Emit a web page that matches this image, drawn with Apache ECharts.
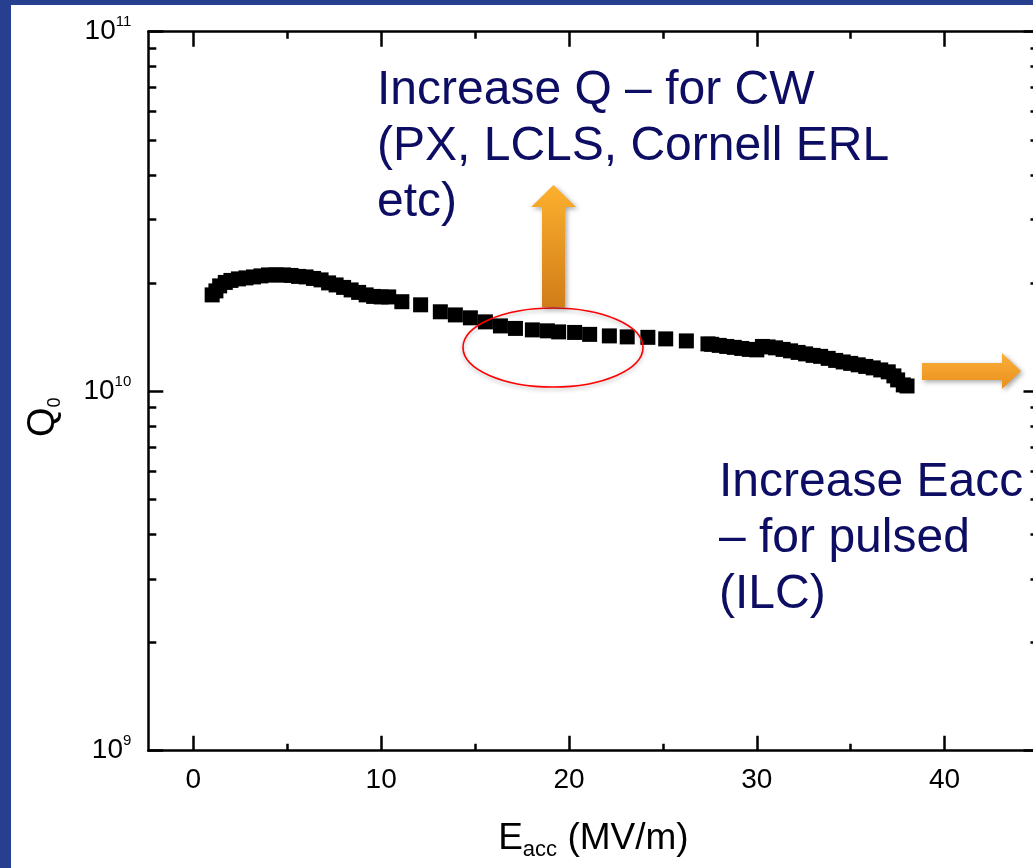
<!DOCTYPE html>
<html><head><meta charset="utf-8">
<script src="https://cdn.jsdelivr.net/npm/echarts@6/dist/echarts.min.js"></script>
<style>html,body{margin:0;padding:0;background:#fff}#c{width:1033px;height:868px}</style>
</head><body><div id="c"></div>
<script>
// ---- data ----
const eacc = [1.0,1.2,1.4,1.7,2.0,2.4,2.8,3.2,3.6,4.0,4.4,4.8,5.2,5.6,6.0,6.4,6.8,7.2,7.6,8.0,8.4,8.8,9.2,9.6,10.0,10.4,
  11.1,12.1,13.15,13.95,14.75,15.55,16.35,17.15,18.05,18.85,19.45,20.3,21.1,22.15,23.1,24.2,25.15,26.25,27.4,
  27.6,28.0,28.4,28.8,29.2,29.6,30.0,30.3,30.6,31.0,31.4,31.8,32.2,32.6,33.0,33.4,33.8,34.2,34.6,35.0,35.4,35.8,36.2,36.6,37.0,37.3,37.5,37.8,38.0];
const q0 = [1.853e10,1.901e10,1.963e10,2.007e10,2.033e10,2.053e10,2.066e10,2.079e10,2.093e10,2.106e10,2.106e10,2.106e10,2.099e10,2.086e10,2.079e10,2.059e10,2.040e10,2.001e10,1.975e10,1.944e10,1.913e10,1.883e10,1.853e10,1.835e10,1.829e10,1.829e10,
  1.774e10,1.739e10,1.663e10,1.630e10,1.600e10,1.559e10,1.519e10,1.495e10,1.481e10,1.472e10,1.462e10,1.457e10,1.439e10,1.425e10,1.416e10,1.412e10,1.398e10,1.380e10,1.354e10,
  1.350e10,1.341e10,1.332e10,1.324e10,1.315e10,1.307e10,1.303e10,1.332e10,1.328e10,1.320e10,1.307e10,1.295e10,1.282e10,1.270e10,1.258e10,1.250e10,1.234e10,1.218e10,1.206e10,1.195e10,1.184e10,1.172e10,1.161e10,1.146e10,1.132e10,1.103e10,1.075e10,1.041e10,1.034e10];
const xMajorTicks = [0,10,20,30,40];
const xMinorTicks = [5,15,25,35];
const yMajorTicks = [1e9,1e10,1e11];
const yMinorTicks = [2e9,3e9,4e9,5e9,6e9,7e9,8e9,9e9,2e10,3e10,4e10,5e10,6e10,7e10,8e10,9e10];
const noteCW = ['Increase Q \u2013 for CW','(PX, LCLS, Cornell ERL','etc)'];
const notePulsed = ['Increase Eacc','\u2013 for pulsed','(ILC)'];

const FONT = '"Liberation Sans", Arial, sans-serif';
const points = eacc.map((e,i)=>[e,q0[i]]);

function xAx(pos, ticks, len, showLine, showLabel, extra){
  return Object.assign({
    type:'value', position:pos, offset:0, min:-2.4, max:45,
    axisLine:{show:showLine, onZero:false, lineStyle:{color:'#000', width:2.5}},
    axisTick:{show:true, inside:true, length:len, customValues:ticks, lineStyle:{color:'#000', width:2.5}},
    axisLabel:{show:showLabel, customValues:ticks, margin:16, color:'#000', fontSize:28, fontFamily:FONT},
    splitLine:{show:false}
  }, extra||{});
}
function yAx(pos, ticks, len, showLine, showLabel, extra){
  return Object.assign({
    type:'log', logBase:10, position:pos, offset:0, min:1e9, max:1e11,
    axisLine:{show:showLine, onZero:false, lineStyle:{color:'#000', width:2.5}},
    axisTick:{show:true, inside:true, length:len, customValues:ticks, lineStyle:{color:'#000', width:2.5}},
    axisLabel:{show:showLabel, customValues:ticks, margin:17,
      formatter:v=>'{b|10}{s|'+Math.round(Math.log10(v))+'}',
      rich:{b:{fontSize:28, lineHeight:34, color:'#000', fontFamily:FONT},
            s:{fontSize:15, lineHeight:15, verticalAlign:'top', color:'#000', fontFamily:FONT}}},
    splitLine:{show:false}, minorTick:{show:false}
  }, extra||{});
}

const chart = echarts.init(document.getElementById('c'), null, {renderer:'canvas'});
chart.setOption({
  animation:false,
  backgroundColor:'#fff',
  grid:{left:148.3, top:31.7, width:890.2, height:719, containLabel:false, outerBoundsMode:'none'},
  xAxis:[
    xAx('bottom', xMajorTicks, 15, true, true, {
      name:'{e|E}{s|acc}{e| (MV/m)}', nameLocation:'middle', nameGap:70,
      nameTextStyle:{rich:{
        e:{fontSize:37, lineHeight:40, verticalAlign:'top', color:'#000', fontFamily:FONT},
        s:{fontSize:22, lineHeight:22, verticalAlign:'bottom', padding:[24,0,0,0], color:'#000', fontFamily:FONT}}}
    }),
    xAx('bottom', xMinorTicks, 7, false, false),
    xAx('top', xMajorTicks, 15, true, false),
    xAx('top', xMinorTicks, 7, false, false)
  ],
  yAxis:[
    yAx('left', yMajorTicks, 15, true, true, {
      name:'{q|Q}{s|0}', nameLocation:'middle', nameGap:84, nameRotate:90,
      nameTextStyle:{padding:[0,52,0,0], rich:{
        q:{fontSize:38, lineHeight:40, verticalAlign:'top', color:'#000', fontFamily:FONT},
        s:{fontSize:18, lineHeight:18, verticalAlign:'bottom', padding:[30,0,0,0], color:'#000', fontFamily:FONT}}}
    }),
    yAx('left', yMinorTicks, 8, false, false),
    yAx('right', yMajorTicks, 15, true, false),
    yAx('right', yMinorTicks, 8, false, false)
  ],
  series:[{
    type:'scatter', xAxisIndex:0, yAxisIndex:0, data:points,
    symbol:'rect', symbolSize:15, itemStyle:{color:'#000', opacity:1}, z:3
  }],
  graphic:[
    {type:'rect', shape:{x:0,y:0,width:11,height:868}, style:{fill:'#26408f'}, z:200},
    {type:'rect', shape:{x:0,y:0,width:1033,height:5}, style:{fill:'#26408f'}, z:200},
    {type:'ellipse', shape:{cx:553, cy:347.5, rx:90, ry:39.5}, z:100,
      style:{fill:'none', stroke:'#ff0000', lineWidth:1.6, shadowBlur:4, shadowOffsetY:2, shadowColor:'rgba(0,0,0,0.3)'}},
    {type:'polygon', z:100,
      shape:{points:[[542,307],[565,307],[565,207],[576,207],[553.5,185],[531,207],[542,207]]},
      style:{fill:new echarts.graphic.LinearGradient(0,0,0,1,[{offset:0,color:'#fdb02e'},{offset:1,color:'#d07d18'}]),
        shadowBlur:5, shadowOffsetX:2, shadowOffsetY:2, shadowColor:'rgba(0,0,0,0.35)'}},
    {type:'polygon', z:100,
      shape:{points:[[922,363],[1002,363],[1002,353],[1021,371],[1002,389],[1002,380],[922,380]]},
      style:{fill:new echarts.graphic.LinearGradient(0,0,0,1,[{offset:0,color:'#fbb03a'},{offset:1,color:'#e8901c'}]),
        shadowBlur:5, shadowOffsetX:2, shadowOffsetY:2, shadowColor:'rgba(0,0,0,0.35)'}},
    {type:'text', x:377, y:63.2, z:100,
      style:{text:noteCW.join('\n'), font:'48px '+FONT, fill:'#0d0d63', lineHeight:56, verticalAlign:'top'}},
    {type:'text', x:719, y:455.2, z:100,
      style:{text:notePulsed.join('\n'), font:'48px '+FONT, fill:'#0d0d63', lineHeight:56, verticalAlign:'top'}}
  ]
});
</script></body></html>
